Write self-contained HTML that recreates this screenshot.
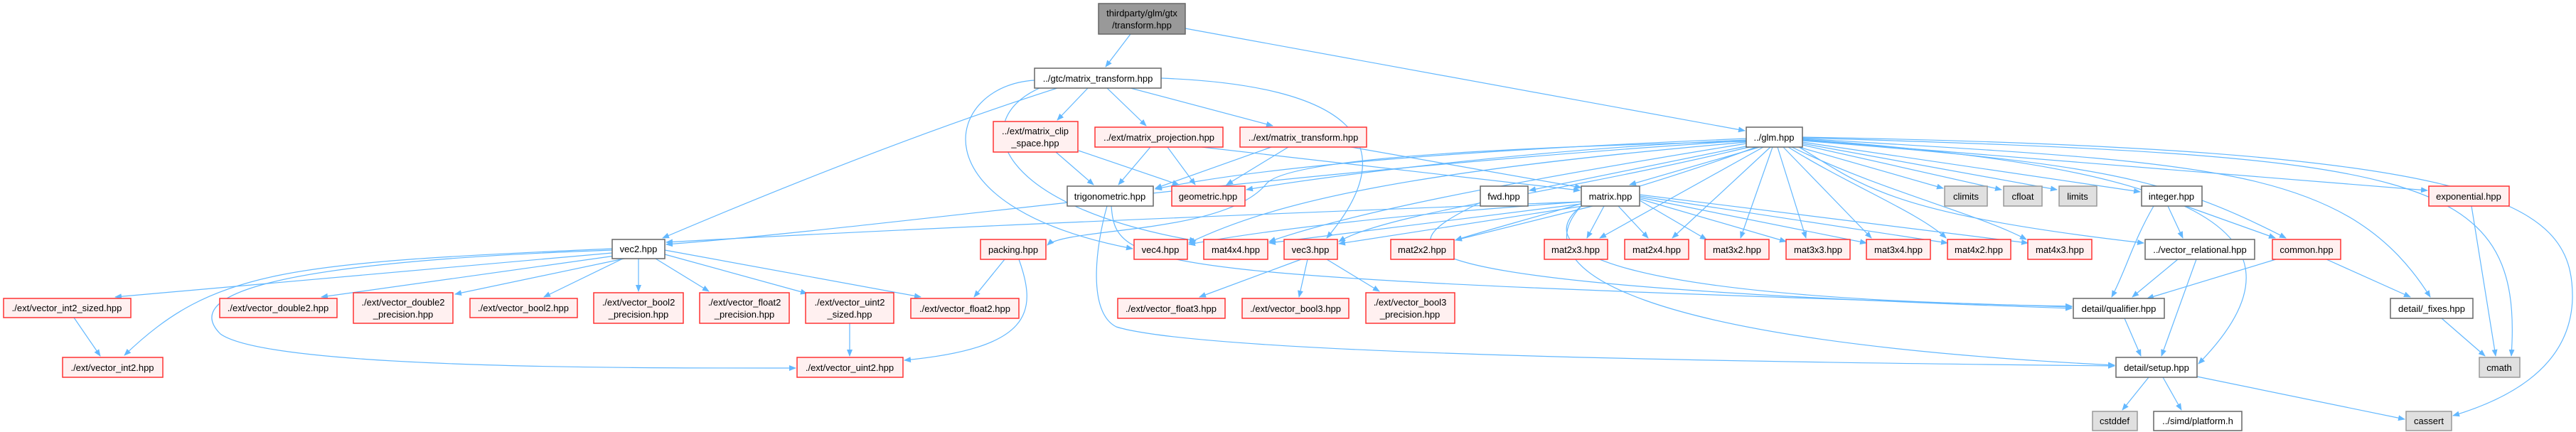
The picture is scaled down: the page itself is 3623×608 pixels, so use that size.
<!DOCTYPE html>
<html><head><meta charset="utf-8"><style>
html,body{margin:0;padding:0;background:#fff;}
svg{display:block;}
text{font-family:"Liberation Sans",sans-serif;font-size:13px;text-anchor:middle;fill:#000;}
.e{fill:none;stroke:#63b8ff;stroke-width:1.2;marker-end:url(#a);}
.r{fill:#fff0f0;stroke:#ff3333;stroke-width:1.5;}
.w{fill:#fff;stroke:#666;stroke-width:1.5;}
.g{fill:#e0e0e0;stroke:#999;stroke-width:1.5;}
.m{fill:#999;stroke:#666;stroke-width:1.5;}
</style></head><body>
<svg width="3623" height="608" viewBox="0 0 3623 608" xmlns="http://www.w3.org/2000/svg">
<defs><marker id="a" markerWidth="10" markerHeight="8" refX="9" refY="4" orient="auto" markerUnits="userSpaceOnUse"><path d="M0,0 L10,4 L0,8 z" fill="#63b8ff"/></marker></defs>
<g>
<path class="e" d="M1590,48 L1555,94"/>
<path class="e" d="M1667,40 L2454,184"/>
<path class="e" d="M1530,124 L1487,169"/>
<path class="e" d="M1557,124 L1612,177"/>
<path class="e" d="M1590,124 L1790,177"/>
<path class="e" d="M1487,124 Q1250,200 932,335"/>
<path class="e" d="M1455,113 C1330,120 1280,290 1593,350"/>
<path class="e" d="M1462,124 C1360,170 1400,290 1682,339"/>
<path class="e" d="M1633,110 C1900,120 1980,200 1866,335"/>
<path class="e" d="M1485,214 L1538,260"/>
<path class="e" d="M1517,212 L1658,260"/>
<path class="e" d="M1618,207 L1573,260"/>
<path class="e" d="M1642,207 L1681,260"/>
<path class="e" d="M1690,207 L2222,268"/>
<path class="e" d="M1788,207 L1625,265"/>
<path class="e" d="M1812,207 L1725,260"/>
<path class="e" d="M1900,207 L2224,264"/>
<path class="e" d="M2456,195 C2100,210 1800,230 1625,266"/>
<path class="e" d="M2456,197 C2150,210 1850,250 1753,267"/>
<path class="e" d="M2460,205 L2151,268"/>
<path class="e" d="M2475,207 L2292,260"/>
<path class="e" d="M2456,198 C1800,240 1250,320 937,344"/>
<path class="e" d="M2456,200 C2000,240 1800,280 1672,342"/>
<path class="e" d="M2456,202 C2100,260 1900,300 1785,340"/>
<path class="e" d="M2460,207 C2200,270 1950,300 1883,340"/>
<path class="e" d="M2456,199 C2000,210 1800,230 1780,260 C1720,330 1500,320 1473,345"/>
<path class="e" d="M2470,207 C2300,270 2100,320 2047,338"/>
<path class="e" d="M2480,207 L2250,335"/>
<path class="e" d="M2490,207 L2352,335"/>
<path class="e" d="M2493,207 L2448,335"/>
<path class="e" d="M2500,207 L2540,335"/>
<path class="e" d="M2508,207 L2632,335"/>
<path class="e" d="M2515,207 C2600,260 2700,300 2737,335"/>
<path class="e" d="M2520,207 C2650,270 2780,300 2850,337"/>
<path class="e" d="M2530,207 L2733,265"/>
<path class="e" d="M2535,204 L2815,267"/>
<path class="e" d="M2535,202 L2893,267"/>
<path class="e" d="M2535,200 L3010,270"/>
<path class="e" d="M2530,207 C2620,260 2650,300 3015,342"/>
<path class="e" d="M2535,198 C2950,230 3050,250 3215,335"/>
<path class="e" d="M2535,196 C3000,230 3300,300 3092,512"/>
<path class="e" d="M2535,195 C3100,230 3300,230 3418,418"/>
<path class="e" d="M2535,197 L3414,268"/>
<path class="e" d="M2535,194 C3400,220 3550,240 3532,501"/>
<path class="e" d="M2535,193 C3500,210 3620,280 3618,420 C3615,530 3500,570 3450,585"/>
<path class="e" d="M1563,290 C1570,380 1600,390 2914,432"/>
<path class="e" d="M1557,290 C1540,350 1530,440 1570,460 C1700,500 2500,510 2974,515"/>
<path class="e" d="M2082,285 C1950,350 1900,400 2914,434"/>
<path class="e" d="M2224,290 C2150,350 2250,420 2914,431"/>
<path class="e" d="M2224,290 C2140,380 2300,480 2974,514"/>
<path class="e" d="M2224,284 C1800,300 1300,320 937,341"/>
<path class="e" d="M2224,284 C2000,300 1800,320 1672,344"/>
<path class="e" d="M2224,287 L1785,342"/>
<path class="e" d="M2226,290 L1883,343"/>
<path class="e" d="M2240,290 L2047,338"/>
<path class="e" d="M2256,290 L2232,335"/>
<path class="e" d="M2276,290 L2318,335"/>
<path class="e" d="M2306,282 L2400,337"/>
<path class="e" d="M2306,280 L2512,340"/>
<path class="e" d="M2306,278 L2625,342"/>
<path class="e" d="M2306,276 L2739,342"/>
<path class="e" d="M2306,274 L2852,342"/>
<path class="e" d="M861,356 L162,418"/>
<path class="e" d="M861,350 C400,370 300,380 175,500"/>
<path class="e" d="M865,360 L452,418"/>
<path class="e" d="M878,364 L640,414"/>
<path class="e" d="M876,364 L765,418"/>
<path class="e" d="M898,364 L898,410"/>
<path class="e" d="M922,364 L997,410"/>
<path class="e" d="M935,358 L1135,413"/>
<path class="e" d="M935,352 L1295,418"/>
<path class="e" d="M861,352 C350,370 260,420 310,470 C380,520 900,518 1119,518"/>
<path class="e" d="M1195,455 L1195,501"/>
<path class="e" d="M104,447 L141,501"/>
<path class="e" d="M1413,365 L1370,418"/>
<path class="e" d="M1433,365 C1460,440 1450,490 1272,507"/>
<path class="e" d="M1830,365 L1687,418"/>
<path class="e" d="M1839,365 L1827,418"/>
<path class="e" d="M1866,365 L1940,410"/>
<path class="e" d="M3029,290 C3000,340 2990,380 2970,418"/>
<path class="e" d="M3049,290 L3070,335"/>
<path class="e" d="M3074,290 L3200,335"/>
<path class="e" d="M3063,365 L2999,418"/>
<path class="e" d="M3089,365 L3040,501"/>
<path class="e" d="M3201,365 L3020,420"/>
<path class="e" d="M3272,365 L3390,418"/>
<path class="e" d="M2988,448 L3011,501"/>
<path class="e" d="M3022,531 L2985,577"/>
<path class="e" d="M3042,531 L3068,577"/>
<path class="e" d="M3090,530 L3382,590"/>
<path class="e" d="M3434,448 L3495,501"/>
<path class="e" d="M3476,290 L3510,501"/>
</g>
<g>
<rect class="m" x="1545" y="5" width="122" height="43"/><text x="1606" y="23">thirdparty/glm/gtx</text><text x="1606" y="40">/transform.hpp</text>
<rect class="w" x="1455" y="96" width="178" height="28"/><text x="1544" y="115">../gtc/matrix_transform.hpp</text>
<rect class="r" x="1397" y="171" width="119" height="43"/><text x="1456" y="189">../ext/matrix_clip</text><text x="1456" y="206">_space.hpp</text>
<rect class="r" x="1540" y="179" width="180" height="28"/><text x="1630" y="198">../ext/matrix_projection.hpp</text>
<rect class="r" x="1744" y="179" width="178" height="28"/><text x="1833" y="198">../ext/matrix_transform.hpp</text>
<rect class="w" x="2456" y="179" width="79" height="28"/><text x="2495" y="198">../glm.hpp</text>
<rect class="w" x="1501" y="262" width="121" height="28"/><text x="1561" y="281">trigonometric.hpp</text>
<rect class="r" x="1648" y="262" width="103" height="28"/><text x="1699" y="281">geometric.hpp</text>
<rect class="w" x="2082" y="262" width="67" height="28"/><text x="2115" y="281">fwd.hpp</text>
<rect class="w" x="2224" y="262" width="82" height="28"/><text x="2265" y="281">matrix.hpp</text>
<rect class="g" x="2735" y="262" width="60" height="28"/><text x="2765" y="281">climits</text>
<rect class="g" x="2818" y="262" width="54" height="28"/><text x="2845" y="281">cfloat</text>
<rect class="g" x="2896" y="262" width="53" height="28"/><text x="2922" y="281">limits</text>
<rect class="w" x="3012" y="262" width="85" height="28"/><text x="3054" y="281">integer.hpp</text>
<rect class="r" x="3416" y="262" width="113" height="28"/><text x="3472" y="281">exponential.hpp</text>
<rect class="w" x="861" y="337" width="74" height="27"/><text x="898" y="355">vec2.hpp</text>
<rect class="r" x="1379" y="337" width="92" height="28"/><text x="1425" y="356">packing.hpp</text>
<rect class="r" x="1595" y="337" width="75" height="28"/><text x="1632" y="356">vec4.hpp</text>
<rect class="r" x="1693" y="337" width="90" height="28"/><text x="1738" y="356">mat4x4.hpp</text>
<rect class="r" x="1806" y="337" width="75" height="28"/><text x="1843" y="356">vec3.hpp</text>
<rect class="r" x="1956" y="337" width="89" height="28"/><text x="2000" y="356">mat2x2.hpp</text>
<rect class="r" x="2172" y="337" width="89" height="28"/><text x="2216" y="356">mat2x3.hpp</text>
<rect class="r" x="2285" y="337" width="90" height="28"/><text x="2330" y="356">mat2x4.hpp</text>
<rect class="r" x="2398" y="337" width="90" height="28"/><text x="2443" y="356">mat3x2.hpp</text>
<rect class="r" x="2512" y="337" width="90" height="28"/><text x="2557" y="356">mat3x3.hpp</text>
<rect class="r" x="2625" y="337" width="90" height="28"/><text x="2670" y="356">mat3x4.hpp</text>
<rect class="r" x="2739" y="337" width="89" height="28"/><text x="2783" y="356">mat4x2.hpp</text>
<rect class="r" x="2852" y="337" width="90" height="28"/><text x="2897" y="356">mat4x3.hpp</text>
<rect class="w" x="3017" y="337" width="154" height="28"/><text x="3094" y="356">../vector_relational.hpp</text>
<rect class="r" x="3196" y="337" width="96" height="28"/><text x="3244" y="356">common.hpp</text>
<rect class="r" x="5" y="420" width="179" height="27"/><text x="94" y="438">./ext/vector_int2_sized.hpp</text>
<rect class="r" x="309" y="420" width="165" height="27"/><text x="391" y="438">./ext/vector_double2.hpp</text>
<rect class="r" x="497" y="412" width="140" height="43"/><text x="567" y="430">./ext/vector_double2</text><text x="567" y="447">_precision.hpp</text>
<rect class="r" x="661" y="420" width="151" height="27"/><text x="736" y="438">./ext/vector_bool2.hpp</text>
<rect class="r" x="835" y="412" width="126" height="43"/><text x="898" y="430">./ext/vector_bool2</text><text x="898" y="447">_precision.hpp</text>
<rect class="r" x="984" y="412" width="126" height="43"/><text x="1047" y="430">./ext/vector_float2</text><text x="1047" y="447">_precision.hpp</text>
<rect class="r" x="1133" y="412" width="124" height="43"/><text x="1195" y="430">./ext/vector_uint2</text><text x="1195" y="447">_sized.hpp</text>
<rect class="r" x="1281" y="420" width="152" height="28"/><text x="1357" y="439">./ext/vector_float2.hpp</text>
<rect class="r" x="1572" y="420" width="151" height="28"/><text x="1647" y="439">./ext/vector_float3.hpp</text>
<rect class="r" x="1747" y="420" width="150" height="28"/><text x="1822" y="439">./ext/vector_bool3.hpp</text>
<rect class="r" x="1921" y="412" width="125" height="43"/><text x="1983" y="430">./ext/vector_bool3</text><text x="1983" y="447">_precision.hpp</text>
<rect class="w" x="2916" y="420" width="128" height="28"/><text x="2980" y="439">detail/qualifier.hpp</text>
<rect class="w" x="3362" y="420" width="116" height="28"/><text x="3420" y="439">detail/_fixes.hpp</text>
<rect class="r" x="88" y="503" width="141" height="28"/><text x="158" y="522">./ext/vector_int2.hpp</text>
<rect class="r" x="1121" y="503" width="149" height="28"/><text x="1195" y="522">./ext/vector_uint2.hpp</text>
<rect class="w" x="2976" y="503" width="114" height="28"/><text x="3033" y="522">detail/setup.hpp</text>
<rect class="g" x="3487" y="503" width="57" height="28"/><text x="3515" y="522">cmath</text>
<rect class="g" x="2943" y="579" width="63" height="27"/><text x="2974" y="597">cstddef</text>
<rect class="w" x="3029" y="579" width="124" height="27"/><text x="3091" y="597">../simd/platform.h</text>
<rect class="g" x="3384" y="579" width="64" height="27"/><text x="3416" y="597">cassert</text>
</g>
</svg>
</body></html>
